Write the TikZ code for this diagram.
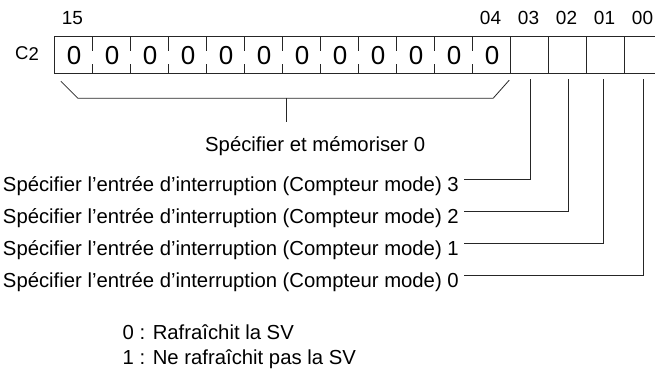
\documentclass[tikz,border=0pt]{standalone}
\usepackage{fontspec}
\setmainfont{Liberation Sans}

\tikzset{
  cell/.style={minimum width=38pt, minimum height=36pt, inner sep=0pt},
  bitnum/.style={font=\fontsize{19}{19}\selectfont, anchor=base, inner sep=0pt},
  zero/.style={font=\fontsize{26}{26}\selectfont, inner sep=0pt},
  desc/.style={font=\fontsize{20.3}{20.3}\selectfont, inner sep=0pt},
  wire/.style={line width=0.8pt, draw=black!85},
}

\begin{document}
\begin{tikzpicture}[x=1pt, y=-1pt]
\useasboundingbox (0,0) rectangle (655,377);

% Register C2, bit 15 at the left
\foreach \k [evaluate=\k as \bit using int(15-\k)] in {0,...,15}
  \node[cell] (b\bit) at (74+38*\k, 55) {};
\node[font=\fontsize{18.5}{18.5}\selectfont, inner sep=0pt, anchor=east] (reg) at (39,54) {C\raisebox{-1pt}{2}};

\draw[wire] (b15.north west) rectangle (b0.south east);
\foreach \i in {14,...,4}
  \draw[wire] (b\i.north west) -- ++(0,14) (b\i.south west) -- ++(0,-9);
\foreach \i in {3,...,0}
  \draw[wire] (b\i.north west) -- (b\i.south west);

% Fixed bits
\foreach \i in {15,...,4}
  \node[zero] (z\i) at ([yshift=-1pt]b\i) {0};

% Bit numbers
\foreach \i/\t in {15/15, 4/04, 3/03, 2/02, 1/01, 0/00}
  \node[bitnum] (n\i) at ([xshift=-1.5pt, yshift=12pt]b\i.north) {\t};

% Bracket over bits 15--04
\draw[wire] ([shift={(6,8)}]b15.south west) -- ++(17,17)
  -- ([shift={(-18,25)}]b4.south east) -- ([shift={(-2,7)}]b4.south east);
\coordinate (stem) at (286,98);
\node[desc, anchor=base west] (keep) at (205,151) {Spécifier et mémoriser 0};
\draw[wire] (stem) -- ++(0,24);

% Bits 03--00
\node[desc, anchor=base east] (d3) at (459,191) {Spécifier l’entrée d’interruption (Compteur mode) 3};
\node[desc, anchor=base east] (d2) at (459,223.5) {Spécifier l’entrée d’interruption (Compteur mode) 2};
\node[desc, anchor=base east] (d1) at (459,255) {Spécifier l’entrée d’interruption (Compteur mode) 1};
\node[desc, anchor=base east] (d0) at (459,287.5) {Spécifier l’entrée d’interruption (Compteur mode) 0};

\draw[wire] ([xshift=5pt, yshift=12pt]d3.base east) -| ([yshift=-6pt]b3.south);
\draw[wire] ([xshift=5pt, yshift=12pt]d2.base east) -| ([yshift=-6pt]b2.south);
\draw[wire] ([xshift=5pt, yshift=12pt]d1.base east) -| ([xshift=-3pt, yshift=-6pt]b1.south);
\draw[wire] ([xshift=5pt, yshift=12pt]d0.base east) -| ([xshift=-1pt, yshift=-6pt]b0.south);

% Meaning of the bits
\node[desc, anchor=base west] (key0) at (122.5,339) {0 : Rafraîchit la SV};
\node[desc, anchor=base west] (key1) at (122.5,364) {1 : Ne rafraîchit pas la SV};
\end{tikzpicture}
\end{document}
